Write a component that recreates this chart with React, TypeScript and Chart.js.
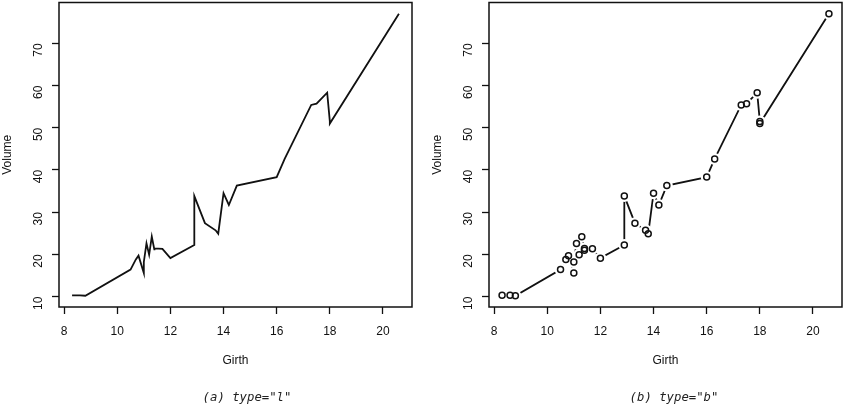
import React, { useEffect, useRef } from "react";
import { Chart, registerables } from "chart.js";

Chart.register(...registerables);

const girth = [8.3, 8.6, 8.8, 10.5, 10.7, 10.8, 11.0, 11.0, 11.1, 11.2, 11.3, 11.4, 11.4, 11.7, 12.0, 12.9, 12.9, 13.3, 13.7, 13.8, 14.0, 14.2, 14.5, 16.0, 16.3, 17.3, 17.5, 17.9, 18.0, 18.0, 20.6];
const volume = [10.3, 10.3, 10.2, 16.4, 18.8, 19.7, 15.6, 18.2, 22.6, 19.9, 24.2, 21.0, 21.4, 21.3, 19.1, 22.2, 33.8, 27.4, 25.7, 24.9, 34.5, 31.7, 36.3, 38.3, 42.6, 55.4, 55.7, 58.3, 51.5, 51.0, 77.0];
const xTicks = [8, 10, 12, 14, 16, 18, 20];
const yTicks = [10, 20, 30, 40, 50, 60, 70];
const xTitle = "Girth";
const yTitle = "Volume";
const captions = ['(a) type="l"', '(b) type="b"'];

const points = girth.map((g, i) => ({ x: g, y: volume[i] }));
const pad = (lo: number, hi: number) => {
  const d = (hi - lo) * 0.04;
  return [lo - d, hi + d];
};
const [xMin, xMax] = pad(Math.min(...girth), Math.max(...girth));
const [yMin, yMax] = pad(Math.min(...volume), Math.max(...volume));

const FONT = "'Liberation Sans Narrow', 'Liberation Sans', Arial, sans-serif";

const boxPlugin = {
  id: "rbox",
  afterDraw(chart: any) {
    const { ctx, chartArea: a } = chart;
    ctx.save();
    ctx.strokeStyle = "#111";
    ctx.lineWidth = 1.5;
    ctx.strokeRect(a.left, a.top, a.right - a.left, a.bottom - a.top);
    ctx.restore();
  },
};

function Panel({ type }: { type: "l" | "b" }) {
  const ref = useRef<HTMLCanvasElement>(null);
  useEffect(() => {
    if (!ref.current) return;
    const datasets: any[] = [
      {
        data: points,
        showLine: true,
        borderColor: "#111",
        borderWidth: 1.8,
        pointRadius: 0,
        fill: false,
        tension: 0,
        order: 3,
      },
    ];
    if (type === "b") {
      datasets.push({
        data: points,
        showLine: false,
        pointRadius: 6,
        pointBorderWidth: 0,
        pointBackgroundColor: "#ffffff",
        pointBorderColor: "#ffffff",
        order: 2,
      });
      datasets.push({
        data: points,
        showLine: false,
        pointRadius: 3,
        pointBorderWidth: 1.5,
        pointBackgroundColor: "rgba(0,0,0,0)",
        pointBorderColor: "#111",
        order: 1,
      });
    }
    const tickFont = { family: FONT, size: 12 };
    const chart = new Chart(ref.current, {
      type: "scatter",
      data: { datasets },
      plugins: [boxPlugin],
      options: {
        animation: false,
        responsive: false,
        maintainAspectRatio: false,
        layout: { autoPadding: false, padding: { left: 0, right: 2, top: 2.5, bottom: 42 } },
        plugins: { legend: { display: false }, tooltip: { enabled: false } },
        scales: {
          x: {
            type: "linear",
            min: xMin,
            max: xMax,
            afterBuildTicks: (s: any) => {
              s.ticks = xTicks.map((v) => ({ value: v }));
            },
            afterFit: (s: any) => {
              s.height = 61;
              s.paddingLeft = 0;
              s.paddingRight = 0;
            },
            grid: { drawOnChartArea: false, drawTicks: true, tickLength: 7, color: "#111", tickWidth: 1.3 },
            border: { display: false },
            ticks: { color: "#111", font: tickFont, padding: 10, maxRotation: 0, minRotation: 0 },
            title: { display: true, text: xTitle, color: "#111", font: tickFont, padding: { top: 0, bottom: 0 } },
          },
          y: {
            type: "linear",
            min: yMin,
            max: yMax,
            afterBuildTicks: (s: any) => {
              s.ticks = yTicks.map((v) => ({ value: v }));
            },
            afterFit: (s: any) => {
              s.width = 59;
              s.paddingTop = 0;
              s.paddingBottom = 0;
            },
            grid: { drawOnChartArea: false, drawTicks: true, tickLength: 7, color: "#111", tickWidth: 1.3 },
            border: { display: false },
            ticks: { color: "#111", font: tickFont, padding: 13, minRotation: 90, maxRotation: 90 },
            title: { display: true, text: yTitle, color: "#111", font: tickFont, padding: { top: 0, bottom: 0 } },
          },
        },
      } as any,
    });
    return () => chart.destroy();
  }, [type]);
  return <canvas ref={ref} width={414} height={410} style={{ display: "block", width: 414, height: 410 }} />;
}

export default function App() {
  const capStyle: React.CSSProperties = {
    position: "absolute",
    top: 389,
    width: 200,
    textAlign: "center",
    fontFamily: "'DejaVu Sans Mono', monospace",
    fontStyle: "italic",
    fontSize: 12.3,
    lineHeight: "16px",
    color: "#222",
    whiteSpace: "pre",
  };
  return (
    <div style={{ position: "fixed", left: 0, top: 0, width: 844, height: 410, background: "#fff", overflow: "hidden" }}>
      <div style={{ position: "absolute", left: 0, top: 0 }}>
        <Panel type="l" />
      </div>
      <div style={{ position: "absolute", left: 430, top: 0 }}>
        <Panel type="b" />
      </div>
      <div style={{ ...capStyle, left: 247 - 100 }}>{captions[0]}</div>
      <div style={{ ...capStyle, left: 674 - 100 }}>{captions[1]}</div>
    </div>
  );
}
